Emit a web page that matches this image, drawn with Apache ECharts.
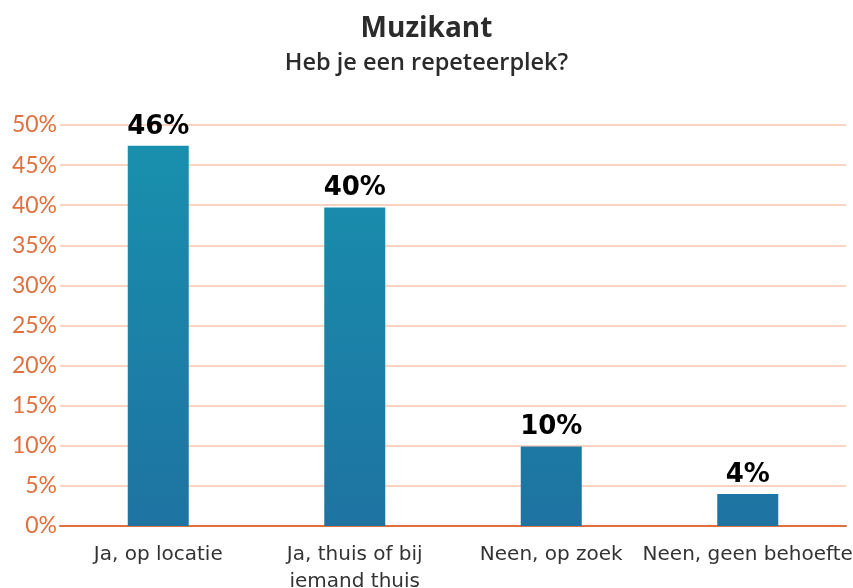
<!DOCTYPE html>
<html><head><meta charset="utf-8">
<script src="https://cdn.jsdelivr.net/npm/echarts@6/dist/echarts.min.js"></script>
<style>html,body{margin:0;padding:0;background:#fff}#c{width:853px;height:588px}</style>
</head><body><div id="c"></div>
<script>
const categories = ['Ja, op locatie', 'Ja, thuis of bij\niemand thuis', 'Neen, op zoek', 'Neen, geen behoefte'];
const values = [47.4, 39.7, 9.9, 4.0];
const valueLabels = ['46%', '40%', '10%', '4%'];
const yTicks = [0, 5, 10, 15, 20, 25, 30, 35, 40, 45, 50];

const chart = echarts.init(document.getElementById('c'));
chart.setOption({
  animation: false,
  title: [{
    text: 'Muzikant', left: 'center', top: 10,
    textStyle: {fontFamily: 'Open Sans', fontWeight: 'bold', fontSize: 28, color: '#2b2b2b'}
  }, {
    text: 'Heb je een repeteerplek?', left: 'center', top: 46,
    textStyle: {fontFamily: 'Open Sans', fontWeight: 600, fontSize: 23.5, color: '#2b2b2b'}
  }],
  grid: {left: 60, right: 7, top: 125, bottom: 62, outerBoundsMode: 'none', containLabel: false},
  xAxis: {
    type: 'category', data: categories,
    axisLine: {lineStyle: {color: '#e0703c', width: 2}},
    axisTick: {show: false},
    axisLabel: {fontFamily: 'DejaVu Sans', fontSize: 20, color: '#333', margin: 15, lineHeight: 27, interval: 0, hideOverlap: false}
  },
  yAxis: {
    type: 'value', min: yTicks[0], max: yTicks[yTicks.length - 1], interval: 5,
    axisLine: {show: false}, axisTick: {show: false},
    axisLabel: {formatter: '{value}%', fontFamily: 'Lato', fontSize: 23, color: '#e0703c', margin: 3},
    splitLine: {show: true, lineStyle: {color: ['#fbc3ae'], width: 1.5}}
  },
  series: [{
    type: 'bar', barWidth: 61,
    data: values,
    itemStyle: {
      color: new echarts.graphic.LinearGradient(0, 125, 0, 526, [
        {offset: 0, color: '#1891ae'}, {offset: 1, color: '#1e73a1'}
      ], true)
    },
    label: {
      show: true, position: 'top', distance: 6,
      formatter: p => valueLabels[p.dataIndex],
      fontFamily: 'DejaVu Sans', fontWeight: 'bold', fontSize: 26, color: '#000'
    }
  }]
});
</script></body></html>
